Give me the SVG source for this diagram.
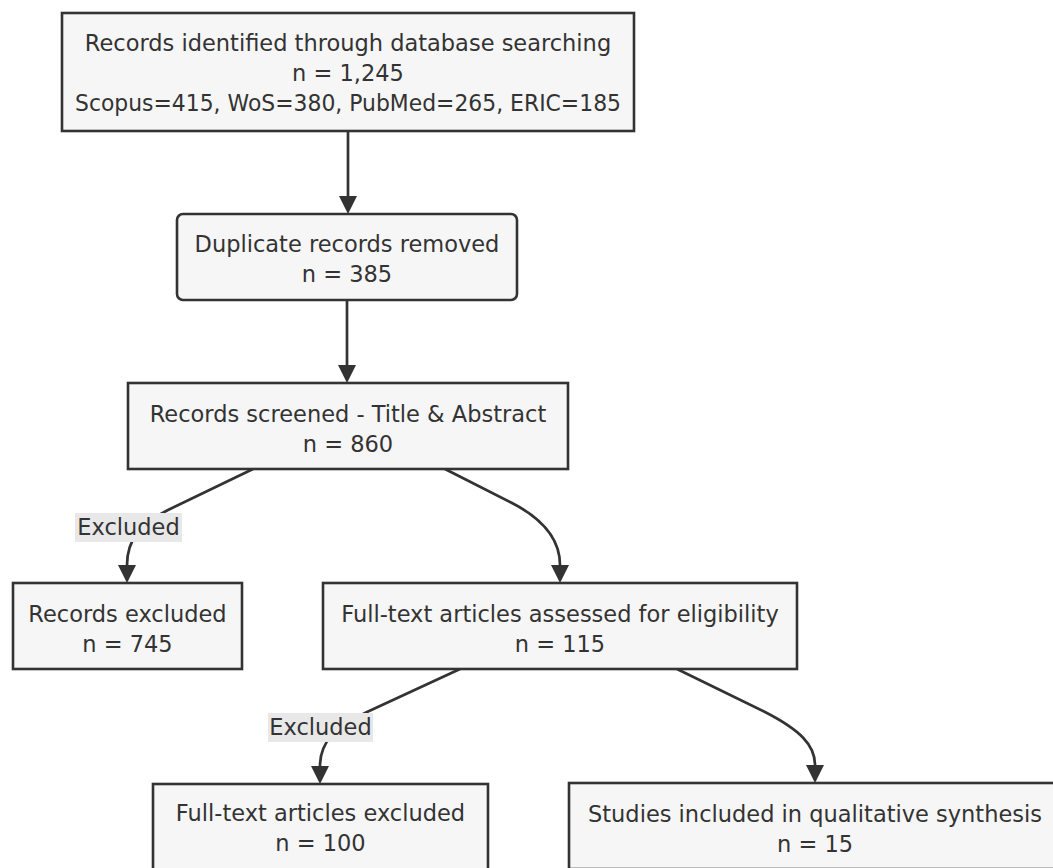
<svg xmlns="http://www.w3.org/2000/svg" width="1053" height="868" viewBox="0 0 1053 868">
<defs>
<style>
.node rect{fill:#f6f6f6;stroke:#333333;stroke-width:2.6}
.node text,.lbl text{font-family:"DejaVu Sans",sans-serif;font-size:22.5px;fill:#333333;text-anchor:middle}
.edge{fill:none;stroke:#333333;stroke-width:2.7}
.lbl rect{fill:#e8e8e8;stroke:none}
</style>
<marker id="arr" viewBox="0 0 10 10" markerUnits="userSpaceOnUse" markerWidth="18" markerHeight="18" refX="0" refY="5" orient="auto">
<path d="M0,0 L10,5 L0,10 z" fill="#333333"/>
</marker>
</defs>
<rect x="0" y="0" width="1053" height="868" fill="#ffffff"/>
<g id="connectors">
<path class="edge" d="M348,131 L348,196" marker-end="url(#arr)"/>
<path class="edge" d="M347,300 L347,365" marker-end="url(#arr)"/>
<path class="edge" d="M253,469 L168,510 C140,524 127,540 127,565" marker-end="url(#arr)"/>
<path class="edge" d="M445,469 L512,503 C545,520 560,540 560,565" marker-end="url(#arr)"/>
<path class="edge" d="M460,669 L367,712 C335,727 320,742 320,766" marker-end="url(#arr)"/>
<path class="edge" d="M677,669 L765,712 C800,730 815,745 815,765" marker-end="url(#arr)"/>
<g class="lbl" id="label-excluded-1"><rect x="75" y="513" width="107" height="29"/><text x="128.5" y="535">Excluded</text></g>
<g class="lbl" id="label-excluded-2"><rect x="268" y="713" width="105" height="29"/><text x="320.5" y="735">Excluded</text></g>
</g>
<g id="node-identified" class="node">
<rect x="62" y="13" width="572" height="118"/>
<text x="348" y="51">Records identified through database searching</text>
<text x="348" y="81">n = 1,245</text>
<text x="348" y="111" textLength="546" lengthAdjust="spacingAndGlyphs">Scopus=415, WoS=380, PubMed=265, ERIC=185</text>
</g>
<g id="node-duplicates" class="node">
<rect x="177" y="214" width="340" height="86" rx="6" ry="6"/>
<text x="347" y="252">Duplicate records removed</text>
<text x="347" y="282">n = 385</text>
</g>
<g id="node-screened" class="node">
<rect x="128" y="383" width="440" height="86"/>
<text x="348" y="422">Records screened - Title &amp; Abstract</text>
<text x="348" y="452">n = 860</text>
</g>
<g id="node-records-excluded" class="node">
<rect x="13" y="583" width="229" height="86"/>
<text x="127.5" y="622">Records excluded</text>
<text x="127.5" y="652">n = 745</text>
</g>
<g id="node-fulltext" class="node">
<rect x="323" y="583" width="474" height="86"/>
<text x="560" y="622">Full-text articles assessed for eligibility</text>
<text x="560" y="652">n = 115</text>
</g>
<g id="node-fulltext-excluded" class="node">
<rect x="153" y="784" width="335" height="86"/>
<text x="320.5" y="821">Full-text articles excluded</text>
<text x="320.5" y="851">n = 100</text>
</g>
<g id="node-included" class="node">
<rect x="569" y="783" width="492" height="86"/>
<text x="815" y="822">Studies included in qualitative synthesis</text>
<text x="815" y="852">n = 15</text>
</g>
</svg>
